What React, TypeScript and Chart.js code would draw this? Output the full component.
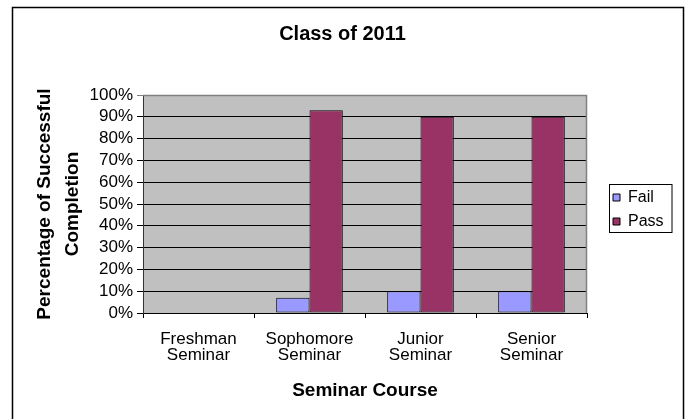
import React, { useEffect, useRef } from "react";
import { Chart, registerables } from "chart.js";

Chart.register(...registerables);

const chartTitle = "Class of 2011";
const categories: string[][] = [
  ["Freshman", "Seminar"],
  ["Sophomore", "Seminar"],
  ["Junior", "Seminar"],
  ["Senior", "Seminar"],
];
const failValues: (number | null)[] = [null, 7, 10, 10];
const passValues: (number | null)[] = [null, 93, 90, 90];
const seriesNames = ["Fail", "Pass"];
const yTitle = ["Percentage of Successful", "Completion"];
const xTitle = "Seminar Course";

const FONT = "'Liberation Sans', Arial, sans-serif";

const framePlugin = {
  id: "frame",
  beforeDraw(chart: any) {
    const { ctx, width, height, chartArea } = chart;
    ctx.save();
    ctx.fillStyle = "#ffffff";
    ctx.fillRect(0, 0, width, height);
    ctx.strokeStyle = "#000000";
    ctx.lineWidth = 1.5;
    ctx.strokeRect(12.5, 7.5, 671, 450);
    ctx.fillStyle = "#C0C0C0";
    ctx.fillRect(chartArea.left, chartArea.top, chartArea.right - chartArea.left, chartArea.bottom - chartArea.top);
    ctx.restore();
  },
  beforeDatasetsDraw(chart: any) {
    const { ctx, chartArea } = chart;
    ctx.save();
    ctx.strokeStyle = "#808080";
    ctx.lineWidth = 1.5;
    ctx.beginPath();
    ctx.moveTo(chartArea.left, chartArea.top + 0.5);
    ctx.lineTo(chartArea.right - 0.5, chartArea.top + 0.5);
    ctx.lineTo(chartArea.right - 0.5, chartArea.bottom);
    ctx.stroke();
    ctx.restore();
  },
  afterDraw(chart: any) {
    const legend = chart.legend;
    if (!legend || !legend.legendHitBoxes || !legend.legendHitBoxes.length) return;
    const boxes = legend.legendHitBoxes;
    const first = boxes[0];
    const last = boxes[boxes.length - 1];
    const { ctx } = chart;
    ctx.save();
    ctx.strokeStyle = "#000000";
    ctx.lineWidth = 1;
    const x0 = Math.round(legend.left + 4) + 0.5;
    const y0 = Math.round(first.top - 6) + 0.5;
    const y1 = Math.round(last.top + last.height + 2) + 0.5;
    ctx.strokeRect(x0, y0, 672 - x0, y1 - y0);
    ctx.restore();
  },
};

export default function App() {
  const canvasRef = useRef<HTMLCanvasElement | null>(null);

  useEffect(() => {
    if (!canvasRef.current) return;
    Chart.defaults.font.family = FONT;
    Chart.defaults.color = "#000000";
    const chart = new Chart(canvasRef.current, {
      type: "bar",
      data: {
        labels: categories,
        datasets: [
          {
            label: seriesNames[0],
            data: failValues,
            backgroundColor: "#9999FF",
            borderColor: "#000000",
            borderWidth: 1,
            borderSkipped: false,
            categoryPercentage: 0.6,
            barPercentage: 1.0,
          },
          {
            label: seriesNames[1],
            data: passValues,
            backgroundColor: "#993366",
            borderColor: "#000000",
            borderWidth: 1,
            borderSkipped: false,
            categoryPercentage: 0.6,
            barPercentage: 1.0,
          },
        ],
      },
      options: {
        responsive: false,
        animation: false,
        maintainAspectRatio: false,
        layout: { padding: { left: 12, right: 14, top: 0, bottom: 0 } },
        plugins: {
          title: {
            display: true,
            text: chartTitle,
            color: "#000000",
            font: { size: 20, weight: "bold", family: FONT, lineHeight: 1.2 },
            padding: { top: 22, bottom: 49 },
          },
          legend: {
            display: true,
            position: "right",
            maxWidth: 68,
            labels: {
              boxWidth: 7,
              boxHeight: 7,
              padding: 8,
              color: "#000000",
              font: { size: 16, family: FONT },
            },
          },
          tooltip: { enabled: false },
        },
        scales: {
          x: {
            type: "category",
            grid: {
              display: true,
              drawOnChartArea: false,
              drawTicks: true,
              tickLength: 5,
              color: "#000000",
            },
            border: { display: true, color: "#000000", width: 1 },
            ticks: {
              color: "#000000",
              padding: 14,
              maxRotation: 0,
              autoSkip: false,
              font: { size: 17, family: FONT, lineHeight: 0.9 },
            },
            title: {
              display: true,
              text: xTitle,
              color: "#000000",
              font: { size: 19, weight: "bold", family: FONT, lineHeight: 1.2 },
              padding: { top: 0, bottom: 17 },
            },
            afterFit: (scale: any) => {
              scale.height = 106;
            },
          },
          y: {
            type: "linear",
            min: 0,
            max: 100,
            grid: {
              display: true,
              drawTicks: true,
              tickLength: 6,
              color: (c: any) => (c.tick && c.tick.value === 100 ? "#808080" : "#000000"),
              lineWidth: 1,
            },
            border: { display: true, color: "#333333", width: 1 },
            ticks: {
              stepSize: 10,
              autoSkip: false,
              padding: 4,
              color: "#000000",
              font: { size: 17, family: FONT, lineHeight: 1.0 },
              callback: (v: any) => v + "%",
            },
            title: {
              display: true,
              text: yTitle,
              color: "#000000",
              font: { size: 19, weight: "bold", family: FONT, lineHeight: 1.47 },
              padding: { top: 19, bottom: 0 },
            },
            afterFit: (scale: any) => {
              scale.width = 131;
            },
          },
          y2: {
            type: "linear",
            position: "right",
            display: true,
            grid: { display: false },
            border: { display: false },
            ticks: { display: false },
            afterFit: (scale: any) => {
              scale.width = 18;
            },
          },
        },
      },
      plugins: [framePlugin],
    } as any);
    return () => {
      chart.destroy();
    };
  }, []);

  return (
    <div style={{ position: "absolute", left: 0, top: 0, width: 687, height: 419 }}>
      <canvas ref={canvasRef} width={687} height={419} style={{ display: "block", width: 687, height: 419 }} />
    </div>
  );
}
